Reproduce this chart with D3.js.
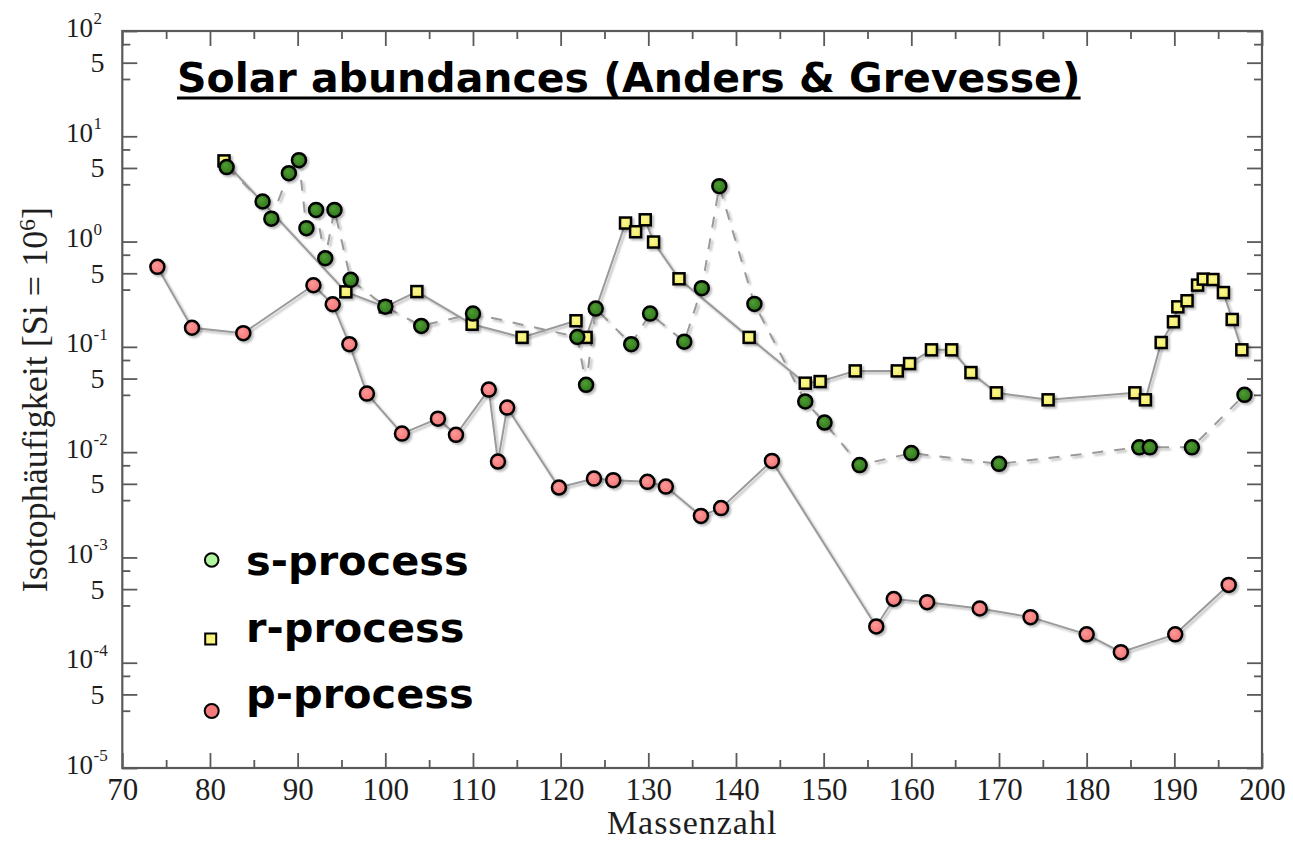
<!DOCTYPE html>
<html>
<head>
<meta charset="utf-8">
<script src="https://cdn.jsdelivr.net/npm/d3@7"></script>
<style>
  html, body { margin: 0; padding: 0; background: #fff; }
  svg { display: block; }
</style>
</head>
<body>
<svg id="chart" width="1293" height="842"></svg>
<script>
// Solar isotopic abundances (Anders & Grevesse), split by nucleosynthesis process.
// Mass number and abundance relative to Si = 1e6.

const sMass   = [81.9, 86.0, 87.0, 89.0, 90.15, 91.0, 92.1, 93.15, 94.2, 96.05, 100.0, 104.1, 110.0,
                 121.9, 122.9, 124.0, 128.05, 130.2, 134.1, 136.1, 138.1, 142.1, 147.9, 150.1, 154.1,
                 160.0, 170.0, 186.0, 187.2, 192.0, 198.0];
const sAbund  = [5.1, 2.4, 1.65, 4.46, 5.93, 1.34, 2.0, 0.695, 2.0, 0.433, 0.241, 0.158, 0.207,
                 0.124, 0.0436, 0.231, 0.106, 0.207, 0.112, 0.361, 3.36, 0.256, 0.0303, 0.0191, 0.00753,
                 0.0098, 0.00774, 0.0111, 0.0111, 0.0111, 0.035];

const rMass   = [81.6, 95.5, 100.0, 103.6, 109.9, 115.6, 121.75, 122.9, 127.4, 128.55, 129.65, 130.6, 133.5,
                 141.5, 147.9, 149.6, 153.6, 158.4, 159.8, 162.3, 164.6, 166.8, 169.7, 175.6, 185.5,
                 186.7, 188.5, 189.9, 190.4, 191.45, 192.65, 193.3, 194.4, 195.6, 196.6, 197.7];
const rAbund  = [5.84, 0.333, 0.24, 0.335, 0.164, 0.123, 0.177, 0.123, 1.50, 1.24, 1.61, 0.99, 0.443,
                 0.123, 0.0452, 0.0468, 0.0591, 0.0591, 0.0694, 0.0937, 0.0937, 0.057, 0.0366, 0.0314, 0.0366,
                 0.0314, 0.110, 0.173, 0.240, 0.274, 0.386, 0.44, 0.436, 0.328, 0.182, 0.0937];

const pMass   = [74.0, 77.95, 83.8, 91.8, 94.0, 95.9, 97.9, 101.9, 106.0, 108.06, 111.8, 112.85, 113.9,
                 119.8, 123.8, 126.0, 129.9, 132.0, 136.0, 138.3, 144.1, 156.0, 158.0, 161.8, 167.8,
                 173.6, 180.0, 183.9, 190.1, 196.2];
const pAbund  = [0.575, 0.152, 0.135, 0.385, 0.254, 0.106, 0.036, 0.0150, 0.0208, 0.0146, 0.0393, 0.00814, 0.0265,
                 0.00461, 0.00561, 0.00542, 0.00522, 0.00471, 0.00248, 0.00294, 0.00826, 0.000221, 0.000403, 0.000376, 0.000327,
                 0.000271, 0.000186, 0.000126, 0.000186, 0.000548];

// Axis ticks and labels
const xMajorTicks = [70, 80, 90, 100, 110, 120, 130, 140, 150, 160, 170, 180, 190, 200];
const xMinorTicks = [75, 85, 95, 105, 115, 125, 135, 145, 155, 165, 175, 185, 195];
const yExponents  = [2, 1, 0, -1, -2, -3, -4, -5];
const yFiveLabel  = "5";
const yMinorMantissas = [7.5, 3.5];

const titleText  = "Solar abundances (Anders & Grevesse)";
const xTitle     = "Massenzahl";
const yTitleMain = "Isotophäufigkeit [Si = 10";
const yTitleSup  = "6";
const legendLabels = ["s-process", "r-process", "p-process"];

const svg = d3.select("#chart");
const plotL = 122.3, plotR = 1262, plotT = 31, plotB = 768;

const x = d3.scaleLinear().domain([70, 200]).range([plotL, plotR]);
const y = d3.scaleLog().domain([1e-5, 1e2]).range([plotB, plotT]);

// ---------- defs: gradients and soft shadow ----------
const defs = svg.append("defs");
const shadow = defs.append("filter").attr("id", "shadow")
  .attr("x", "-30%").attr("y", "-30%").attr("width", "160%").attr("height", "160%");
shadow.append("feDropShadow").attr("dx", 2).attr("dy", 2).attr("stdDeviation", 1.3)
  .attr("flood-color", "#000").attr("flood-opacity", 0.28);

function radial(id, c0, c1) {
  const g = defs.append("radialGradient").attr("id", id)
    .attr("cx", "50%").attr("cy", "50%").attr("r", "60%").attr("fx", "38%").attr("fy", "35%");
  g.append("stop").attr("offset", "0%").attr("stop-color", c0);
  g.append("stop").attr("offset", "100%").attr("stop-color", c1);
}
radial("gS", "#4f9e32", "#2c701b");
radial("gP", "#ff9a9a", "#ef7070");
radial("gR", "#fbf894", "#f1ec62");

// ---------- frame and ticks ----------
const axisColor = "#5a5a5a";
const frame = svg.append("g");

function styleAxis(g) {
  g.select(".domain").remove();
  g.selectAll(".tick line").attr("stroke", axisColor).attr("stroke-width", 1.8);
}

// bottom
frame.append("g").attr("transform", `translate(0,${plotB})`)
  .call(d3.axisBottom(x).tickValues(xMajorTicks).tickSize(-15).tickPadding(10).tickFormat(d3.format("d")))
  .call(styleAxis)
  .call(g => g.selectAll("text").attr("font-family", "Liberation Serif, Times New Roman, serif")
    .attr("font-size", 31).attr("fill", "#1e1e1e"));
frame.append("g").attr("transform", `translate(0,${plotB})`)
  .call(d3.axisBottom(x).tickValues(xMinorTicks).tickSize(-8).tickFormat(""))
  .call(styleAxis);
// top
frame.append("g").attr("transform", `translate(0,${plotT})`)
  .call(d3.axisTop(x).tickValues(xMajorTicks).tickSize(-15).tickFormat(""))
  .call(styleAxis);
frame.append("g").attr("transform", `translate(0,${plotT})`)
  .call(d3.axisTop(x).tickValues(xMinorTicks).tickSize(-8).tickFormat(""))
  .call(styleAxis);

const yMajor = yExponents.map(e => Math.pow(10, e));
const yFives = yExponents.slice(1).map(e => 5 * Math.pow(10, e));
const yMinor = [];
yExponents.slice(1).forEach(e => yMinorMantissas.forEach(m => yMinor.push(m * Math.pow(10, e))));

[[d3.axisLeft, plotL], [d3.axisRight, plotR]].forEach(([ax, pos]) => {
  frame.append("g").attr("transform", `translate(${pos},0)`)
    .call(ax(y).tickValues(yMajor.concat(yFives)).tickSize(-15).tickFormat(""))
    .call(styleAxis);
  frame.append("g").attr("transform", `translate(${pos},0)`)
    .call(ax(y).tickValues(yMinor).tickSize(-8).tickFormat(""))
    .call(styleAxis);
});

frame.append("rect")
  .attr("x", plotL).attr("y", plotT).attr("width", plotR - plotL).attr("height", plotB - plotT)
  .attr("fill", "none").attr("stroke", axisColor).attr("stroke-width", 2.2);

// y tick labels: 10^n and 5
const serif = "Liberation Serif, Times New Roman, serif";
const yLab = svg.append("g").attr("fill", "#1e1e1e").attr("font-family", serif);
yExponents.forEach(e => {
  const yy = y(Math.pow(10, e));
  yLab.append("text").attr("x", 93).attr("y", yy + 5.5).attr("text-anchor", "end")
    .attr("font-size", 27).text("10");
  yLab.append("text").attr("x", 93.5).attr("y", yy - 7).attr("text-anchor", "start")
    .attr("font-size", 17).text(e < 0 ? "-" + (-e) : String(e));
});
yFives.forEach(v => {
  yLab.append("text").attr("x", 104.5).attr("y", y(v) + 9.5).attr("text-anchor", "end")
    .attr("font-size", 28).text(yFiveLabel);
});

// axis titles
svg.append("text").attr("x", (plotL + plotR) / 2).attr("y", 834)
  .attr("text-anchor", "middle").attr("font-family", serif).attr("font-size", 34)
  .attr("letter-spacing", 1).attr("fill", "#1e1e1e").text(xTitle);

const yt = svg.append("text")
  .attr("transform", `translate(47,${(plotT + plotB) / 2}) rotate(-90)`)
  .attr("text-anchor", "middle").attr("font-family", serif).attr("font-size", 36).attr("fill", "#1e1e1e");
yt.append("tspan").text(yTitleMain);
yt.append("tspan").attr("font-size", 24).attr("dy", -12).text(yTitleSup);
yt.append("tspan").attr("dy", 12).text("]");

// ---------- series ----------
const sData = sMass.map((m, i) => ({ m, v: sAbund[i] }));
const rData = rMass.map((m, i) => ({ m, v: rAbund[i] }));
const pData = pMass.map((m, i) => ({ m, v: pAbund[i] }));

const line = d3.line().x(d => x(d.m)).y(d => y(d.v));
const lines = svg.append("g").attr("fill", "none").attr("filter", "url(#shadow)");
lines.append("path").datum(rData).attr("d", line).attr("stroke", "#9a9a9a").attr("stroke-width", 2);
lines.append("path").datum(sData).attr("d", line).attr("stroke", "#9a9a9a").attr("stroke-width", 2)
  .attr("stroke-dasharray", "11,11");
lines.append("path").datum(pData).attr("d", line).attr("stroke", "#9a9a9a").attr("stroke-width", 2);

const marks = svg.append("g").attr("filter", "url(#shadow)").attr("stroke", "#000").attr("stroke-width", 2.5);
const sq = 11;
marks.selectAll("rect.r").data(rData).join("rect").attr("class", "r")
  .attr("x", d => x(d.m) - sq / 2).attr("y", d => y(d.v) - sq / 2)
  .attr("width", sq).attr("height", sq).attr("fill", "url(#gR)");
marks.selectAll("circle.s").data(sData).join("circle").attr("class", "s")
  .attr("cx", d => x(d.m)).attr("cy", d => y(d.v)).attr("r", 7).attr("fill", "url(#gS)");
marks.selectAll("circle.p").data(pData).join("circle").attr("class", "p")
  .attr("cx", d => x(d.m)).attr("cy", d => y(d.v)).attr("r", 7).attr("fill", "url(#gP)");

// ---------- title ----------
const sans = "DejaVu Sans, Verdana, sans-serif";
const title = svg.append("text").attr("x", 177).attr("y", 92)
  .attr("font-family", sans).attr("font-weight", "bold").attr("font-size", 41)
  .attr("fill", "#000").text(titleText);
const tw = title.node().getComputedTextLength();
svg.append("rect").attr("x", 177).attr("y", 96.5).attr("width", tw).attr("height", 3).attr("fill", "#000");

// ---------- legend ----------
const legend = svg.append("g");
const legendBase = [575, 641.5, 708];
legend.append("circle").attr("cx", 211.7).attr("cy", 560).attr("r", 6.8)
  .attr("fill", "#b0f59c").attr("stroke", "#000").attr("stroke-width", 2);
legend.append("rect").attr("x", 205.2).attr("y", 633.5).attr("width", 11).attr("height", 11)
  .attr("fill", "#f8f47c").attr("stroke", "#000").attr("stroke-width", 2);
legend.append("circle").attr("cx", 211.7).attr("cy", 711).attr("r", 7)
  .attr("fill", "#f37a7a").attr("stroke", "#000").attr("stroke-width", 2);
legend.selectAll("text").data(legendLabels).join("text")
  .attr("x", 246).attr("y", (d, i) => legendBase[i])
  .attr("font-family", sans).attr("font-weight", "bold").attr("font-size", 41.5)
  .attr("fill", "#000").text(d => d);
</script>
</body>
</html>
